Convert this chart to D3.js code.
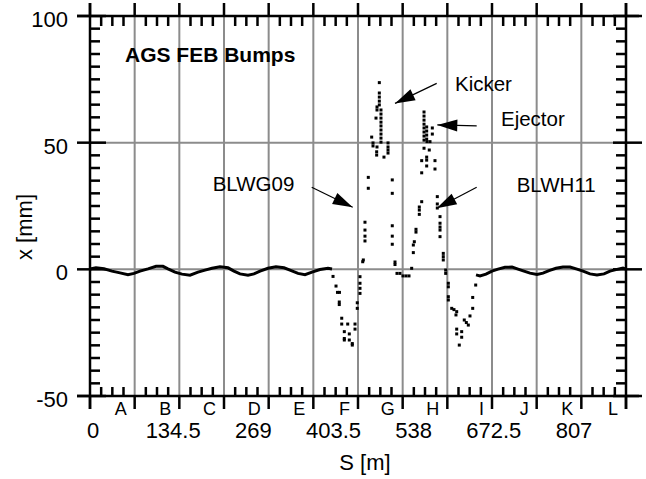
<!DOCTYPE html>
<html>
<head>
<meta charset="utf-8">
<script src="https://cdn.jsdelivr.net/npm/d3@7"></script>
<style>
  body { margin: 0; background: #fff; }
  svg { display: block; font-family: "Liberation Sans", Arial, sans-serif; }
</style>
</head>
<body>
<div id="chart"></div>
<script>
//constants
const width = 646;
const height = 479;
const margin = { top: 16, right: 20, bottom: 83, left: 90 };
const ext = 13; // axis lines run past the frame

// superperiods of the ring
const sections = ["A", "B", "C", "D", "E", "F", "G", "H", "I", "J", "K", "L"];
const sectionLength = 67.25;
const circumference = 807;
const sTickLabels = ["0", "134.5", "269", "403.5", "538", "672.5", "807"];
const xMajorTicks = [-50, 0, 50, 100];
const xGridLines = [0, 50];

// closed orbit outside the bumps [S m, x mm]
const orbitArc1 = [
  [0, 0.1], [9.0, 0.6], [21.1, 0.2], [33.1, -0.7], [45.2, -1.4], [57.2, -2.1],
  [66.2, -1.6], [75.3, -0.7], [87.3, 0.2], [99.4, 1.2], [109.9, 1.2], [117.4, 0.2],
  [128.0, -1.1], [138.5, -1.9], [150.6, -2.3], [162.6, -1.1], [173.1, -0.3],
  [183.7, 0.4], [195.7, 1.0], [207.8, 0.6], [216.8, -0.7], [225.8, -1.8],
  [237.9, -2.3], [246.9, -1.8], [256.0, -0.7], [268.0, 0.4], [280.0, 1.0],
  [292.1, 0.6], [301.1, -0.3], [313.2, -1.6], [323.7, -2.1], [334.2, -1.1],
  [346.3, -0.1], [358.3, 0.4], [364.4, 0.1],
];
const orbitArc2 = [
  [581.2, -2.2], [587.2, -2.6], [596.2, -1.9], [605.2, -0.7], [614.3, 0.1],
  [624.8, 0.8], [635.4, 0.9], [644.4, 0.1], [653.4, -0.7], [662.5, -1.5],
  [673.0, -2.0], [682.0, -1.5], [691.1, -0.5], [701.6, 0.4], [712.1, 0.9],
  [722.7, 0.9], [733.2, 0.1], [742.3, -0.7], [752.8, -1.8], [763.3, -2.2],
  [773.9, -1.8], [782.9, -0.7], [791.9, -0.1], [802.5, 0.5], [807, 0.1],
];

// measured points through the F-I bump region [S m, x mm]
const bumpPoints = [
  [365.9, -2.8], [370.4, -6.6], [372.6, -9.1], [375.6, -9.1], [375.3, -12.9],
  [375.3, -13.9], [379.0, -19.3], [379.0, -21.6], [388.0, -21.6], [382.9, -24.6],
  [382.9, -27.3], [382.9, -27.9], [390.4, -25.5], [390.4, -27.9], [394.9, -29.3],
  [394.9, -29.9], [399.0, -21.6], [399.0, -23.6], [402.4, -13.2], [402.4, -15.4],
  [406.5, -2.9], [406.5, -5.5], [406.5, -7.5], [406.5, -9.5], [410.6, 3.0],
  [411.5, 3.7], [414.0, 11.2], [414.0, 13.1], [414.0, 15.5], [414.0, 18.6],
  [419.0, 32.0], [419.0, 36.3], [424.1, 52.2], [426.1, 49.9], [426.1, 48.7],
  [430.6, 59.7], [431.6, 46.4], [431.6, 45.1], [432.1, 48.3], [432.1, 64.1],
  [432.1, 62.9], [435.6, 73.7], [435.6, 69.6], [435.6, 68.0], [435.6, 66.4],
  [435.6, 64.9], [438.1, 62.9], [438.1, 61.3], [438.1, 59.7], [438.1, 58.1],
  [438.1, 56.6], [438.1, 55.0], [438.1, 53.4], [438.1, 51.8], [438.1, 50.2],
  [442.6, 44.3], [448.7, 49.9], [448.7, 48.3], [448.7, 47.1], [448.7, 45.9],
  [455.1, 35.3], [455.1, 30.0], [455.1, 17.2], [455.1, 13.1], [455.1, 9.9],
  [459.2, 2.9], [459.2, 1.9], [462.2, -1.6], [466.7, -1.6], [471.2, -2.6],
  [475.8, -2.6], [480.3, -2.6], [484.3, 0.4], [486.8, 6.6], [486.8, 9.6],
  [488.3, 10.9], [490.8, 15.8], [490.8, 14.7], [495.8, 21.7], [495.8, 23.4],
  [495.8, 24.6], [499.4, 26.7], [499.4, 38.1], [499.4, 42.9], [502.9, 62.1],
  [502.9, 60.5], [502.9, 58.9], [502.9, 57.3], [502.9, 55.8], [502.9, 54.2],
  [502.9, 52.6], [502.9, 51.0], [506.9, 56.2], [506.9, 54.6], [506.9, 53.0],
  [506.9, 51.4], [515.4, 55.8], [515.4, 53.4], [507.4, 50.4], [511.9, 50.4],
  [502.9, 47.8], [510.8, 47.1], [506.9, 44.3], [506.9, 43.1], [519.4, 42.9],
  [506.9, 40.8], [519.4, 39.6], [522.9, 28.7], [522.9, 25.8], [522.9, 24.2],
  [527.0, 20.8], [527.0, 18.2], [527.0, 16.7], [527.0, 15.5], [527.0, 12.9],
  [531.9, 6.3], [531.9, 5.0], [531.9, 3.7], [535.5, -0.3], [535.5, -1.6],
  [539.5, -5.5], [539.5, -6.9], [539.5, -10.8], [539.5, -12.1], [544.6, -15.4],
  [548.0, -15.9], [552.1, -16.7], [551.0, -18.0], [552.1, -23.6], [552.1, -25.5],
  [559.6, -24.6], [559.6, -26.8], [556.0, -29.9], [563.5, -20.0], [566.6, -21.0],
  [569.6, -22.0], [572.1, -18.4], [576.2, -15.4], [576.2, -11.1], [580.7, -6.2],
];

// element labels and arrows [S m, x mm]
const labels = [
  { text: "BLWG09", s: 184.7, x: 31.0 },
  { text: "Kicker", s: 549.5, x: 70.4 },
  { text: "Ejector", s: 618.8, x: 56.6 },
  { text: "BLWH11", s: 642.4, x: 30.4 },
];
const arrows = [
  { from: [333.8, 32.4], to: [395.5, 24.5] },
  { from: [522.0, 73.4], to: [459.2, 65.5] },
  { from: [582.2, 56.6], to: [522.9, 57.0] },
  { from: [582.2, 32.4], to: [522.0, 24.1] },
];
const title = { text: "AGS FEB Bumps", s: 52.7, x: 82.0 };

const svg = d3
  .select("#chart")
  .append("svg")
  .attr("width", width)
  .attr("height", height);

const x = d3
  .scaleLinear()
  .domain([0, circumference])
  .range([margin.left, width - margin.right]);

const y = d3
  .scaleLinear()
  .domain([-50, 100])
  .range([height - margin.bottom, margin.top]);

const x0 = x.range()[0];
const x1 = x.range()[1];
const yb = y.range()[0];
const yt = y.range()[1];

const majorS = d3.range(sections.length + 1).map((k) => k * sectionLength);
const minorS = [];
majorS.slice(0, -1).forEach((s) => {
  [1, 2, 3].forEach((j) => minorS.push(s + (j * sectionLength) / 4));
});
const minorX = d3.range(-50, 101, 5).filter((v) => !xMajorTicks.includes(v));

// grid
const grid = svg.append("g").attr("stroke", "#8c8c8c").attr("stroke-width", 2);
grid
  .selectAll(".vgrid")
  .data(majorS.slice(1, -1))
  .join("line")
  .attr("x1", (d) => x(d))
  .attr("x2", (d) => x(d))
  .attr("y1", yt)
  .attr("y2", yb);
grid
  .selectAll(".hgrid")
  .data(xGridLines)
  .join("line")
  .attr("x1", x0)
  .attr("x2", x1)
  .attr("y1", (d) => y(d))
  .attr("y2", (d) => y(d));

// orbit
const line = d3
  .line()
  .x((d) => x(d[0]))
  .y((d) => y(d[1]));

svg
  .selectAll(".arc")
  .data([orbitArc1, orbitArc2])
  .join("path")
  .attr("d", line)
  .attr("fill", "none")
  .attr("stroke", "#000")
  .attr("stroke-width", 3);

svg
  .selectAll(".pt")
  .data(bumpPoints)
  .join("rect")
  .attr("x", (d) => x(d[0]) - 1.5)
  .attr("y", (d) => y(d[1]) - 1.5)
  .attr("width", 3)
  .attr("height", 3)
  .attr("fill", "#000");

// frame and ticks
const ax = svg.append("g").attr("stroke", "#000").attr("stroke-width", 2.5);
[yt, yb].forEach((yy) =>
  ax.append("line").attr("x1", x0 - ext).attr("x2", x1 + ext).attr("y1", yy).attr("y2", yy)
);
[x0, x1].forEach((xx) =>
  ax.append("line").attr("x1", xx).attr("x2", xx).attr("y1", yt - ext).attr("y2", yb + ext)
);
majorS.forEach((s) => {
  ax.append("line").attr("x1", x(s)).attr("x2", x(s)).attr("y1", yb).attr("y2", yb + ext);
  ax.append("line").attr("x1", x(s)).attr("x2", x(s)).attr("y1", yt).attr("y2", yt - ext);
});
minorS.forEach((s) => {
  ax.append("line").attr("x1", x(s)).attr("x2", x(s)).attr("y1", yb).attr("y2", yb - 9);
  ax.append("line").attr("x1", x(s)).attr("x2", x(s)).attr("y1", yt).attr("y2", yt + 10);
});
xMajorTicks.forEach((v) => {
  ax.append("line").attr("x1", x0 - ext).attr("x2", x0 + 16).attr("y1", y(v)).attr("y2", y(v));
  ax.append("line").attr("x1", x1 - 13).attr("x2", x1 + 16).attr("y1", y(v)).attr("y2", y(v));
});
minorX.forEach((v) => {
  ax.append("line").attr("x1", x0).attr("x2", x0 + 10).attr("y1", y(v)).attr("y2", y(v));
  ax.append("line").attr("x1", x1).attr("x2", x1 - 10).attr("y1", y(v)).attr("y2", y(v));
});

// tick labels
svg
  .selectAll(".ylab")
  .data(xMajorTicks)
  .join("text")
  .attr("x", 68)
  .attr("y", (d) => y(d) + 11)
  .attr("text-anchor", "end")
  .attr("font-size", 22)
  .text((d) => d);

const labelPos = d3.scalePoint().domain(sTickLabels).range([93, 574]);
svg
  .selectAll(".slab")
  .data(sTickLabels)
  .join("text")
  .attr("x", (d) => labelPos(d))
  .attr("y", 438)
  .attr("text-anchor", "middle")
  .attr("font-size", 22)
  .text((d) => d);

svg
  .selectAll(".sec")
  .data(sections)
  .join("text")
  .attr("x", (d, i) => x(majorS[i + 1]) - 8)
  .attr("y", 415)
  .attr("text-anchor", "end")
  .attr("font-size", 18)
  .text((d) => d);

// axis titles
svg
  .append("text")
  .attr("transform", "translate(32,227) rotate(-90)")
  .attr("text-anchor", "middle")
  .attr("font-size", 22)
  .text("x [mm]");
svg
  .append("text")
  .attr("x", 365)
  .attr("y", 470)
  .attr("text-anchor", "middle")
  .attr("font-size", 22)
  .text("S [m]");

// annotations
svg
  .append("text")
  .attr("x", x(title.s))
  .attr("y", y(title.x))
  .attr("font-size", 21)
  .attr("font-weight", "bold")
  .text(title.text);

svg
  .selectAll(".lab")
  .data(labels)
  .join("text")
  .attr("x", (d) => x(d.s))
  .attr("y", (d) => y(d.x))
  .attr("font-size", 20.5)
  .text((d) => d.text);

const arrowG = svg.selectAll(".arrow").data(arrows).join("g");
arrowG
  .append("line")
  .attr("x1", (d) => x(d.from[0]))
  .attr("y1", (d) => y(d.from[1]))
  .attr("x2", (d) => x(d.to[0]))
  .attr("y2", (d) => y(d.to[1]))
  .attr("stroke", "#000")
  .attr("stroke-width", 1.2);
arrowG
  .append("path")
  .attr("fill", "#000")
  .attr("d", (d) => {
    const tx = x(d.to[0]), ty = y(d.to[1]);
    const dx = tx - x(d.from[0]), dy = ty - y(d.from[1]);
    const len = Math.hypot(dx, dy);
    const ux = dx / len, uy = dy / len;
    const bx = tx - ux * 20, by = ty - uy * 20;
    return `M${tx},${ty}L${bx - uy * 6},${by + ux * 6}L${bx + uy * 6},${by - ux * 6}Z`;
  });
</script>
</body>
</html>
